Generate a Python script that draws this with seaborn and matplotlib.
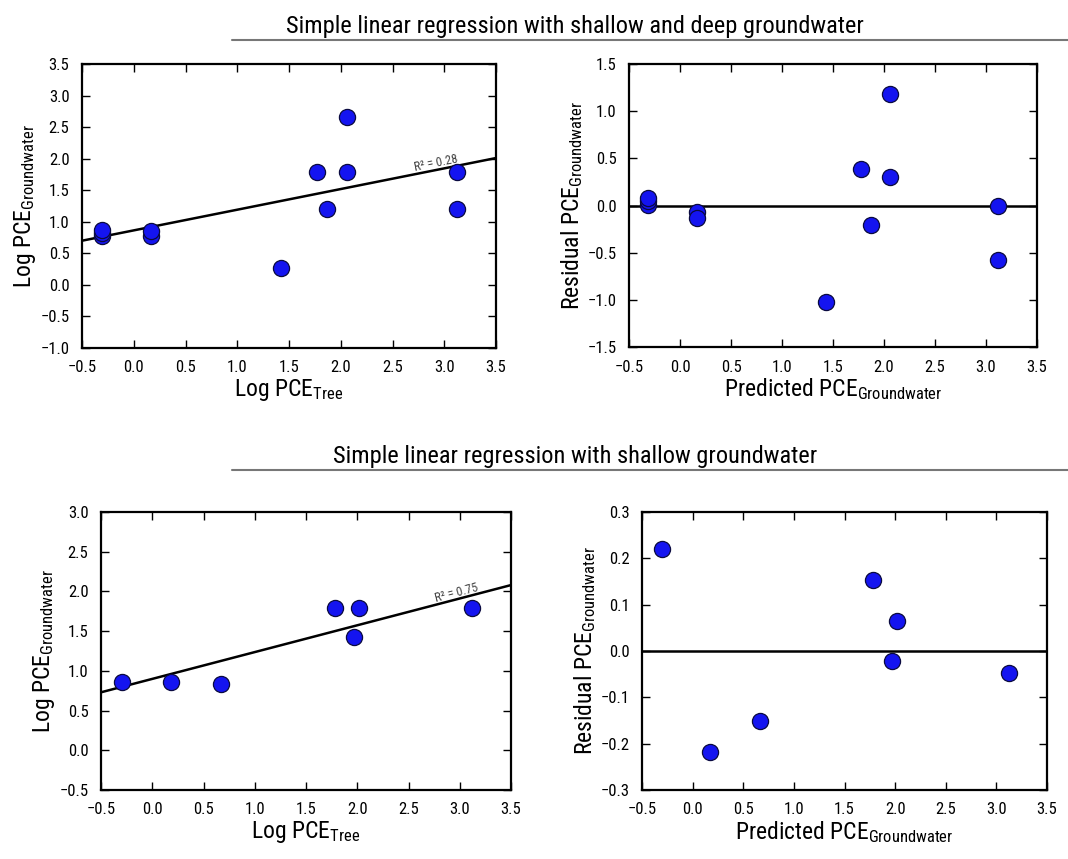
import numpy as np
import pandas as pd
import matplotlib
matplotlib.use("Agg")
import matplotlib.pyplot as plt
import seaborn as sns
from matplotlib import font_manager

# ---------------- data ----------------
# Shallow and deep groundwater
deep_tree = [-0.31, -0.31, -0.31, 0.17, 0.17, 1.42, 1.77, 1.87, 2.06, 2.06, 3.12, 3.12]
deep_gw = [0.78, 0.83, 0.87, 0.78, 0.86, 0.27, 1.79, 1.21, 2.66, 1.79, 1.79, 1.21]
deep_pred = [-0.31, -0.31, -0.31, 0.17, 0.17, 1.43, 1.77, 1.87, 2.06, 2.06, 3.12, 3.12]
deep_resid = [0.01, 0.05, 0.08, -0.07, -0.13, -1.02, 0.39, -0.21, 1.18, 0.30, 0.00, -0.58]
deep_fit_x = [-0.5, 3.5]
deep_fit_y = [0.70, 2.01]
deep_r2 = "R² = 0.28"

# Shallow groundwater only
shal_tree = [-0.30, 0.18, 0.67, 1.78, 1.97, 2.02, 3.12]
shal_gw = [0.86, 0.86, 0.84, 1.79, 1.42, 1.79, 1.79]
shal_pred = [-0.30, 0.17, 0.67, 1.78, 1.97, 2.02, 3.12]
shal_resid = [0.22, -0.218, -0.15, 0.154, -0.022, 0.065, -0.047]
shal_fit_x = [-0.5, 3.5]
shal_fit_y = [0.73, 2.08]
shal_r2 = "R² = 0.75"

title_top = "Simple linear regression with shallow and deep groundwater"
title_bottom = "Simple linear regression with shallow groundwater"
x_ticks = [-0.5, 0.0, 0.5, 1.0, 1.5, 2.0, 2.5, 3.0, 3.5]

# ---------------- style ----------------
sns.set_style("ticks")
names = {f.name for f in font_manager.fontManager.ttflist}
fam = next((n for n in ["Roboto Condensed", "PT Sans Narrow", "Archivo Narrow",
                        "Liberation Sans"] if n in names), "DejaVu Sans")
plt.rcParams["font.family"] = [fam, "DejaVu Sans"]
plt.rcParams["mathtext.fontset"] = "custom"
plt.rcParams["mathtext.rm"] = fam
plt.rcParams["mathtext.it"] = fam
plt.rcParams["axes.unicode_minus"] = True
plt.rcParams["text.color"] = "black"
plt.rcParams["axes.labelcolor"] = "black"

W, H = 1068, 859
fig = plt.figure(figsize=(W / 100, H / 100), dpi=100)


def px_axes(l, t, r, b):
    return fig.add_axes([l / W, 1 - b / H, (r - l) / W, (b - t) / H])


def fmt(v):
    s = f"{v:.1f}"
    return s.replace("-", "\u2212")


def style_ax(ax, yticks):
    ax.set_xlim(-0.5, 3.5)
    ax.set_xticks(x_ticks)
    ax.set_xticklabels([fmt(v) for v in x_ticks])
    ax.set_ylim(yticks[0], yticks[-1])
    ax.set_yticks(yticks)
    ax.set_yticklabels([fmt(v) for v in yticks])
    for s in ax.spines.values():
        s.set_visible(True)
        s.set_linewidth(1.6)
        s.set_color("black")
    ax.tick_params(direction="in", length=6, width=1.0, top=True, right=True,
                   labelsize=12, colors="black")
    ax.tick_params(axis="x", pad=9)
    ax.tick_params(axis="y", pad=9)


def scatter(ax, x, y):
    df = pd.DataFrame({"x": x, "y": y})
    sns.scatterplot(data=df, x="x", y="y", ax=ax, s=135, color="#1414f0",
                    edgecolor="#0a0a40", linewidth=0.9, zorder=3, legend=False)


def r2_label(ax, xs, ys, xpos, text):
    slope = (ys[1] - ys[0]) / (xs[1] - xs[0])
    ypos = ys[0] + slope * (xpos - xs[0])
    p1 = ax.transData.transform((xs[0], ys[0]))
    p2 = ax.transData.transform((xs[1], ys[1]))
    ang = np.degrees(np.arctan2(p2[1] - p1[1], p2[0] - p1[0]))
    ax.text(xpos, ypos, text, rotation=ang, rotation_mode="anchor",
            ha="center", va="bottom", fontsize=9, color="#444444",
            transform=ax.transData)


LBL = 17
# top-left
ax1 = px_axes(82, 64, 496, 348)
style_ax(ax1, [-1.0, -0.5, 0.0, 0.5, 1.0, 1.5, 2.0, 2.5, 3.0, 3.5])
sns.lineplot(x=deep_fit_x, y=deep_fit_y, ax=ax1, color="black", linewidth=1.8, zorder=2)
scatter(ax1, deep_tree, deep_gw)
r2_label(ax1, deep_fit_x, deep_fit_y, 2.93, deep_r2)
ax1.set_xlabel("Log PCE$_{\\mathrm{Tree}}$", fontsize=LBL, labelpad=1)
ax1.set_ylabel("Log PCE$_{\\mathrm{Groundwater}}$", fontsize=LBL, labelpad=2)

# top-right
ax2 = px_axes(629, 64, 1037, 347)
style_ax(ax2, [-1.5, -1.0, -0.5, 0.0, 0.5, 1.0, 1.5])
ax2.axhline(0, color="black", linewidth=1.8, zorder=2)
scatter(ax2, deep_pred, deep_resid)
ax2.set_xlabel("Predicted PCE$_{\\mathrm{Groundwater}}$", fontsize=LBL, labelpad=1)
ax2.set_ylabel("Residual PCE$_{\\mathrm{Groundwater}}$", fontsize=LBL, labelpad=2)

# bottom-left
ax3 = px_axes(101, 512, 511, 790)
style_ax(ax3, [-0.5, 0.0, 0.5, 1.0, 1.5, 2.0, 2.5, 3.0])
sns.lineplot(x=shal_fit_x, y=shal_fit_y, ax=ax3, color="black", linewidth=1.8, zorder=2)
scatter(ax3, shal_tree, shal_gw)
r2_label(ax3, shal_fit_x, shal_fit_y, 2.98, shal_r2)
ax3.set_xlabel("Log PCE$_{\\mathrm{Tree}}$", fontsize=LBL, labelpad=1)
ax3.set_ylabel("Log PCE$_{\\mathrm{Groundwater}}$", fontsize=LBL, labelpad=2)

# bottom-right
ax4 = px_axes(642, 512, 1047, 790)
style_ax(ax4, [-0.3, -0.2, -0.1, 0.0, 0.1, 0.2, 0.3])
ax4.axhline(0, color="black", linewidth=1.8, zorder=2)
scatter(ax4, shal_pred, shal_resid)
ax4.set_xlabel("Predicted PCE$_{\\mathrm{Groundwater}}$", fontsize=LBL, labelpad=1)
ax4.set_ylabel("Residual PCE$_{\\mathrm{Groundwater}}$", fontsize=LBL, labelpad=2)

# section titles with rules
fig.text(575 / W, 1 - 27 / H, title_top, ha="center", va="center", fontsize=17.6)
fig.add_artist(plt.Line2D([232 / W, 1.0], [1 - 40 / H] * 2, color="#777777", linewidth=1.5))
fig.text(575 / W, 1 - 456 / H, title_bottom, ha="center", va="center", fontsize=17.6)
fig.add_artist(plt.Line2D([232 / W, 1.0], [1 - 470 / H] * 2, color="#777777", linewidth=1.5))

fig.savefig("out.png", dpi=100, facecolor="white")
